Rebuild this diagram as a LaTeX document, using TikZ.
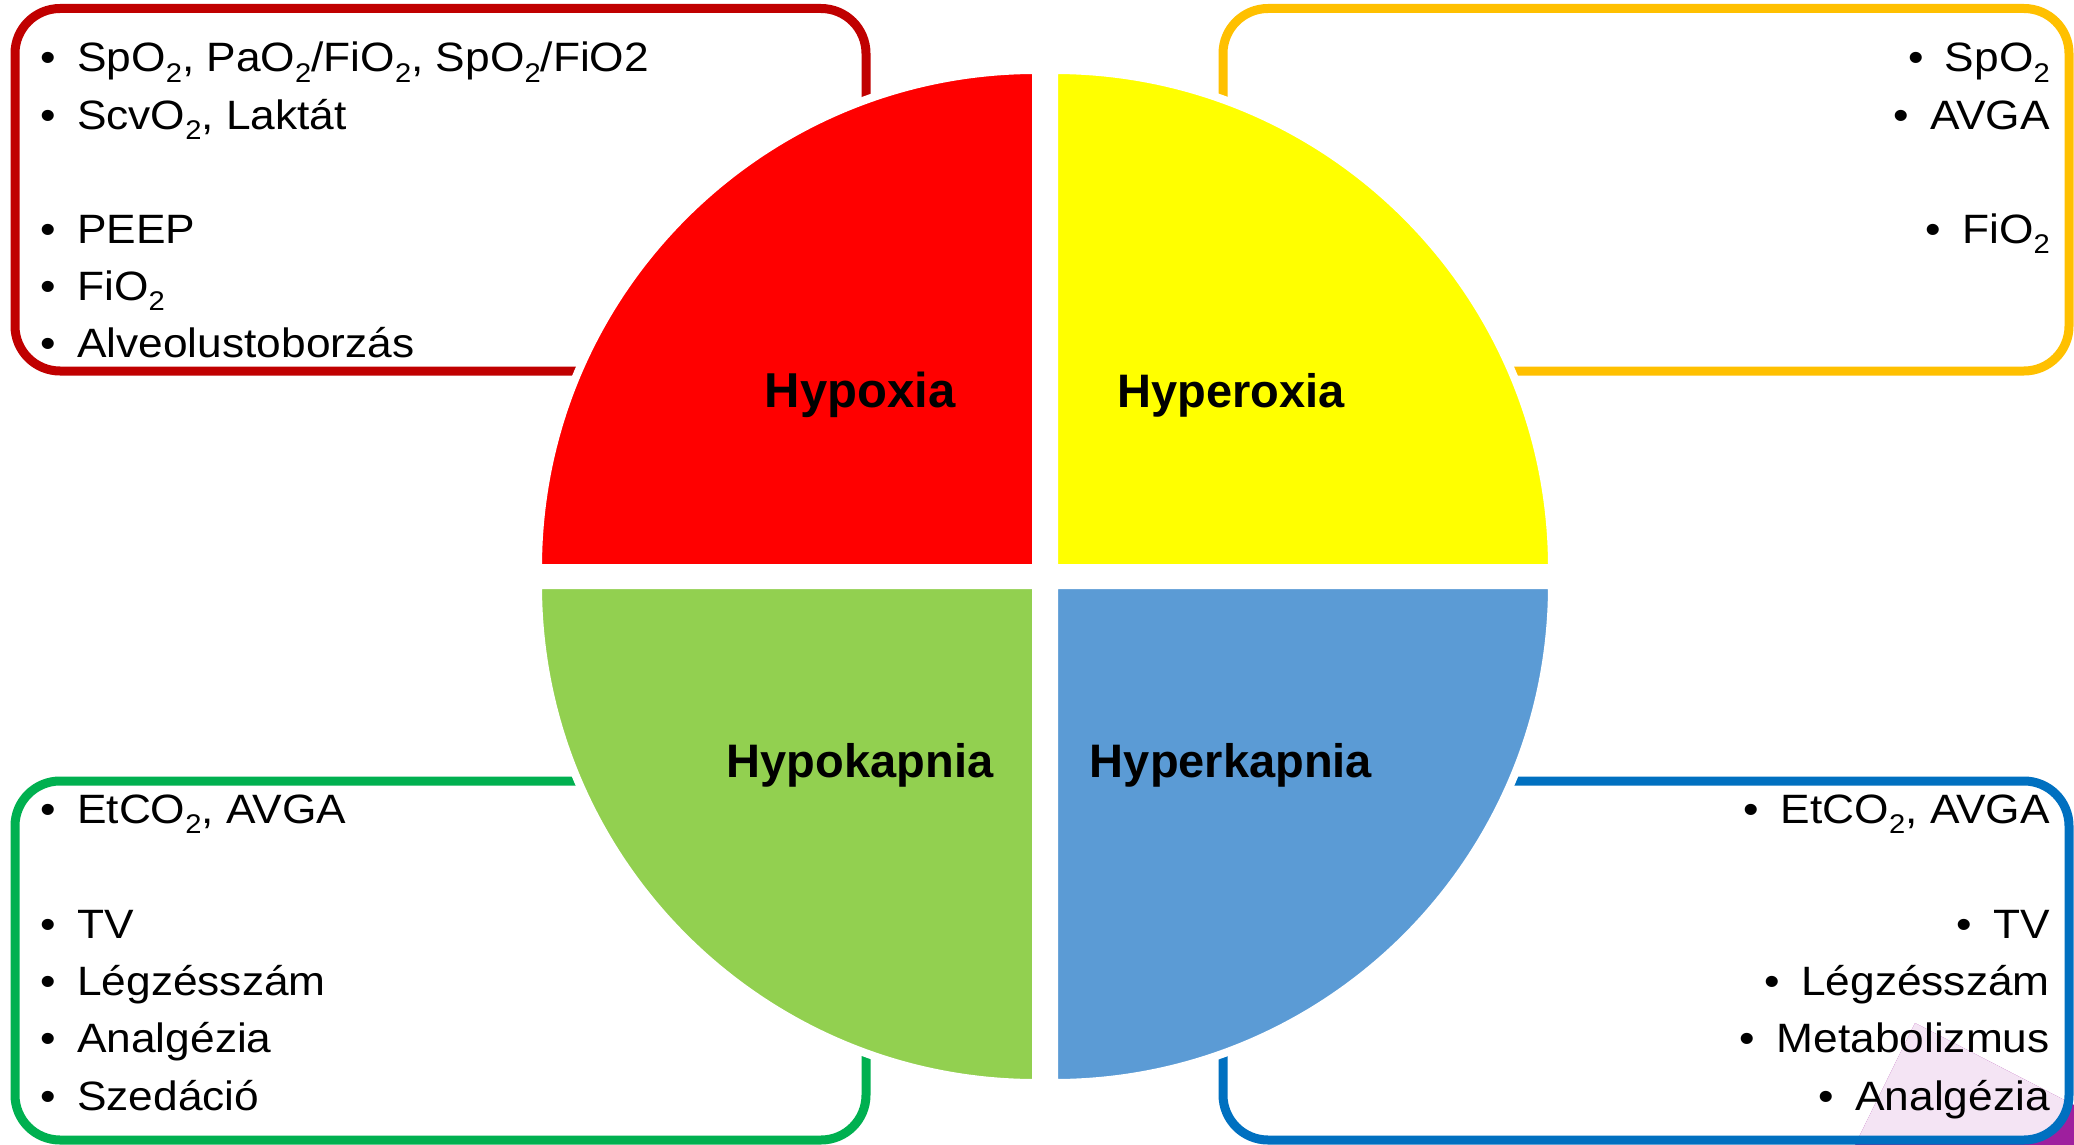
\documentclass[tikz,border=0pt]{standalone}
\usepackage{fontspec}
\setmainfont{Liberation Sans}
\newfontfamily\listfont[FakeStretch=1.08]{Liberation Sans}
\definecolor{qred}{HTML}{FF0000}
\definecolor{qyellow}{HTML}{FFFF00}
\definecolor{qgreen}{HTML}{92D050}
\definecolor{qblue}{HTML}{5B9BD5}
\definecolor{bred}{HTML}{C00000}
\definecolor{byellow}{HTML}{FFC000}
\definecolor{bgreen}{HTML}{00B050}
\definecolor{bblue}{HTML}{0070C0}
\definecolor{decopink}{HTML}{F4E4F4}
\definecolor{decopurple}{HTML}{9E1F9E}
\newcommand\subtwo{\raisebox{-0.25em}{\fontsize{27}{27}\selectfont 2}}
\newcommand\bul{\makebox[37pt][l]{•}}
\begin{document}
\begin{tikzpicture}[x=1pt,y=-1pt,
  box/.style={line width=9pt, rounded corners=45pt},
  listtext/.style={font=\listfont\fontsize{41}{49}\selectfont, inner sep=0pt},
  lefttext/.style={listtext, anchor=base west},
  righttext/.style={listtext, anchor=base east},
  lbl/.style={font=\fontsize{47}{56}\selectfont\bfseries, inner sep=0pt, anchor=base},
  quad/.style={draw=white, line width=8pt}]
\useasboundingbox (0,0) rectangle (2074,1145);
\fill[white] (0,0) rectangle (2074,1145);

% decoration in lower right corner
\fill[decopurple] (1855,1145) -- (1915,1023) -- (2074,1105) -- (2074,1145) -- cycle;
\begin{scope}
  \clip[rounded corners=45pt] (1223,781) rectangle (2069,1140);
  \fill[decopink] (1855,1145) -- (1915,1023) -- (2074,1105) -- (2074,1145) -- cycle;
\end{scope}

% boxes
\draw[box, bred] (15,8.5) rectangle (866,371);
\draw[box, byellow] (1223,8.5) rectangle (2069,371);
\draw[box, bgreen] (15,781) rectangle (866,1140);
\draw[box, bblue] (1223,781) rectangle (2069,1140);

% quadrants
\path[quad, fill=qred] (1036,568) -- (538,568) arc[start angle=180, end angle=90, radius=498pt] -- cycle;
\path[quad, fill=qyellow] (1054,568) -- (1552,568) arc[start angle=0, end angle=90, radius=498pt] -- cycle;
\path[quad, fill=qgreen] (1036,585) -- (538,585) arc[start angle=180, end angle=270, radius=498pt] -- cycle;
\path[quad, fill=qblue] (1054,585) -- (1552,585) arc[start angle=0, end angle=-90, radius=498pt] -- cycle;

% labels
\node[lbl, font=\fontsize{49}{58}\selectfont\bfseries] (lhypoxia) at (860,407) {Hypoxia};
\node[lbl] (lhyperoxia) at (1231,407) {Hyperoxia};
\node[lbl] (lhypokapnia) at (860,777) {Hypokapnia};
\node[lbl] (lhyperkapnia) at (1231,777) {Hyperkapnia};

% red box
\node[lefttext] (r1) at (40,72) {\bul SpO\subtwo, PaO\subtwo/FiO\subtwo, SpO\subtwo/FiO2};
\node[lefttext] (r2) at (40,129) {\bul ScvO\subtwo, Laktát};
\node[lefttext] (r3) at (40,243) {\bul PEEP};
\node[lefttext] (r4) at (40,300) {\bul FiO\subtwo};
\node[lefttext] (r5) at (40,357) {\bul Alveolustoborzás};

% yellow box
\node[righttext] (y1) at (2050,72) {\bul SpO\subtwo};
\node[righttext] (y2) at (2050,129) {\bul AVGA};
\node[righttext] (y3) at (2050,243) {\bul FiO\subtwo};

% green box
\node[lefttext] (g1) at (40,823) {\bul EtCO\subtwo, AVGA};
\node[lefttext] (g2) at (40,938) {\bul TV};
\node[lefttext] (g3) at (40,995) {\bul Légzésszám};
\node[lefttext] (g4) at (40,1052) {\bul Analgézia};
\node[lefttext] (g5) at (40,1110) {\bul Szedáció};

% blue box
\node[righttext] (b1) at (2050,823) {\bul EtCO\subtwo, AVGA};
\node[righttext] (b2) at (2050,938) {\bul TV};
\node[righttext] (b3) at (2050,995) {\bul Légzésszám};
\node[righttext] (b4) at (2050,1052) {\bul Metabolizmus};
\node[righttext] (b5) at (2050,1110) {\bul Analgézia};
\end{tikzpicture}
\end{document}
